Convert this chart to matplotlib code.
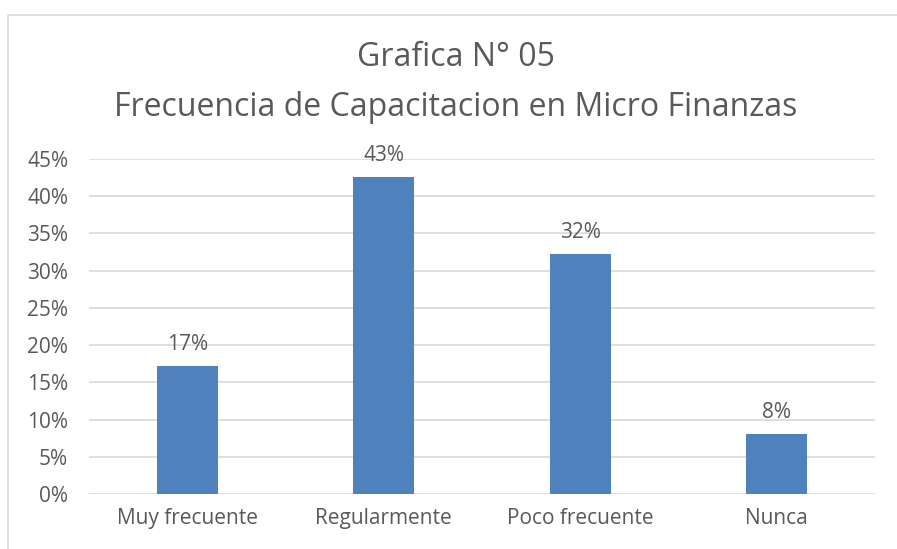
import matplotlib.pyplot as plt
from matplotlib.patches import Rectangle
from matplotlib.ticker import PercentFormatter

categories = ["Muy frecuente", "Regularmente", "Poco frecuente", "Nunca"]
values = [0.172, 0.426, 0.322, 0.080]
labels = ["17%", "43%", "32%", "8%"]
yticks = [0, 0.05, 0.10, 0.15, 0.20, 0.25, 0.30, 0.35, 0.40, 0.45]

W, H = 897, 549
text_color = "#595959"
bar_color = "#4F81BD"
grid_color = "#D9D9D9"

plt.rcParams['font.family'] = ['Open Sans', 'DejaVu Sans']

fig = plt.figure(figsize=(W / 100, H / 100), dpi=100)
fig.patch.set_facecolor("white")

# chart area border (cropped at right and bottom)
fig.patches.append(Rectangle((8 / W, -0.05), 1.0, 1 - 15 / H + 0.05,
                             transform=fig.transFigure, fill=False,
                             edgecolor="#D9D9D9", linewidth=1.2))

ax = fig.add_axes([89 / W, 1 - 494 / H, (875 - 89) / W, (494 - 159) / H])
x = list(range(len(categories)))
ax.bar(x, values, width=0.31, color=bar_color, zorder=3)

for xi, v, lab in zip(x, values, labels):
    ax.annotate(lab, (xi, v), xytext=(0, 8), textcoords="offset points",
                ha="center", va="bottom", fontsize=15, color=text_color)

ax.set_xlim(-0.5, len(categories) - 0.5)
ax.set_ylim(0, 0.45)
ax.set_yticks(yticks)
ax.yaxis.set_major_formatter(PercentFormatter(1.0, decimals=0))
ax.set_xticks(x)
ax.set_xticklabels(categories)
ax.tick_params(axis="both", length=0, labelsize=15, colors=text_color)
ax.tick_params(axis="x", pad=10)
ax.tick_params(axis="y", pad=15)
ax.grid(axis="y", color=grid_color, linewidth=1.2, zorder=0)
for s in ax.spines.values():
    s.set_visible(False)

fig.text(456 / W, 1 - 58 / H, "Grafica N° 05", ha="center", va="center",
         fontsize=23, color=text_color)
fig.text(456 / W, 1 - 107 / H, "Frecuencia de Capacitacion en Micro Finanzas",
         ha="center", va="center", fontsize=23, color=text_color)

fig.savefig("out.png", dpi=100)
